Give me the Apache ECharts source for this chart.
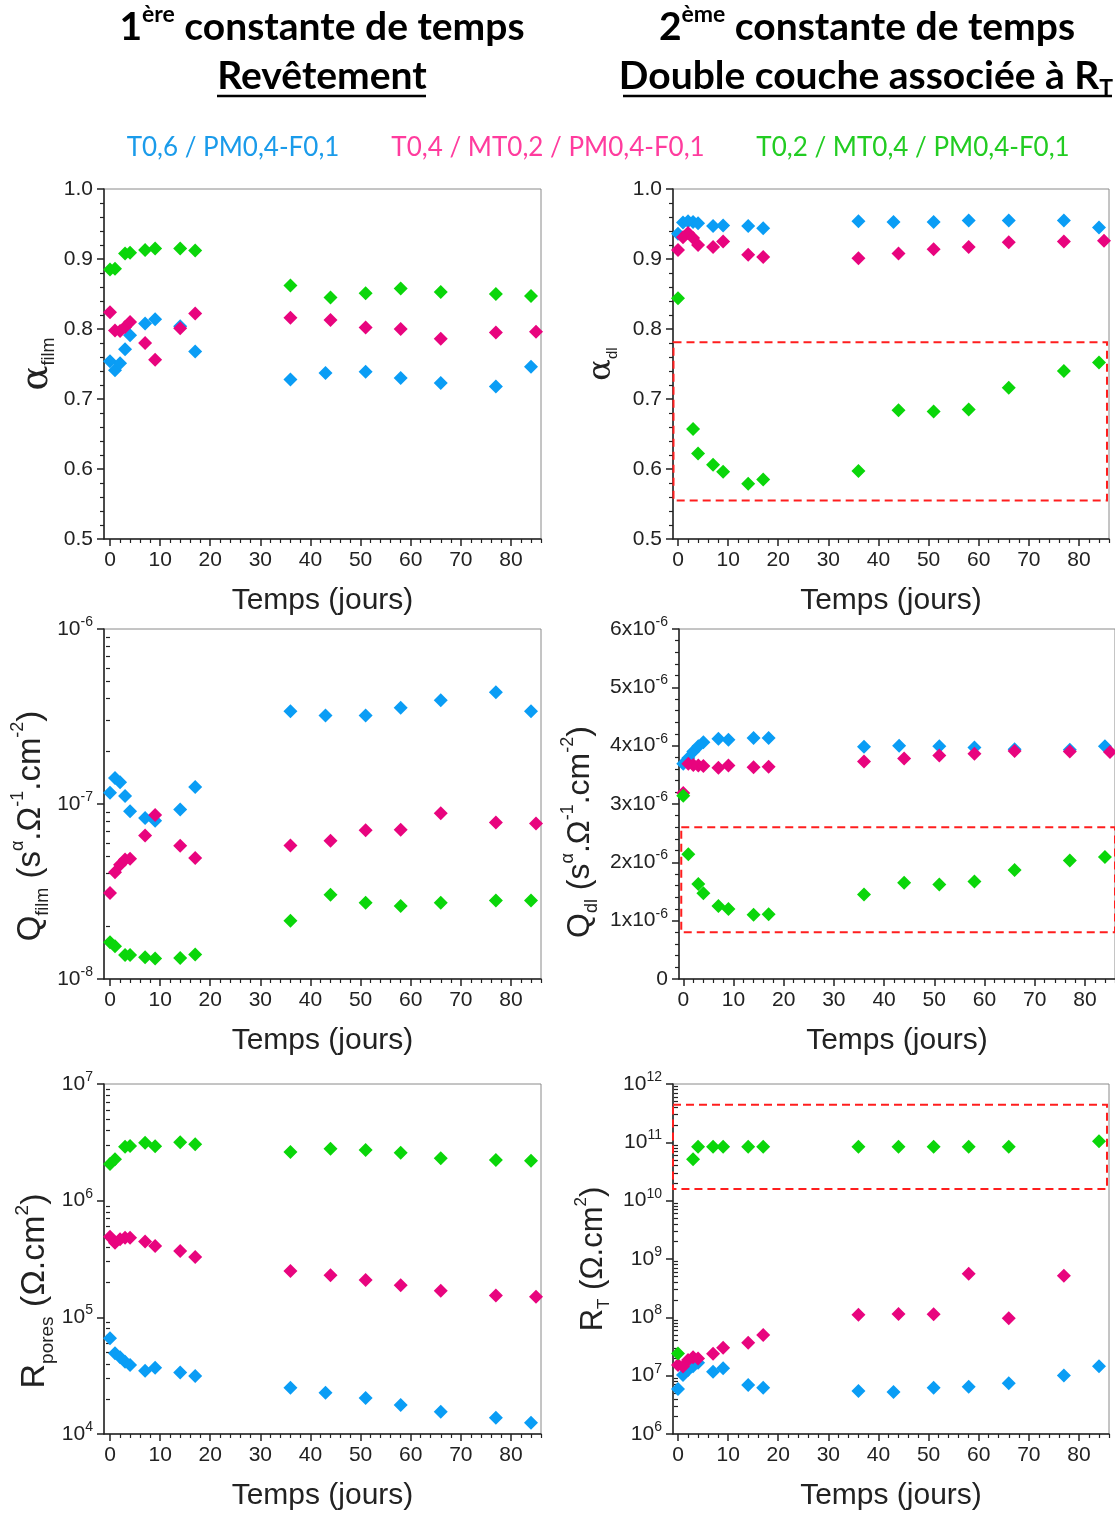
<!DOCTYPE html>
<html><head><meta charset="utf-8">
<script src="https://cdn.jsdelivr.net/npm/echarts@6/dist/echarts.min.js"></script>
<style>html,body{margin:0;padding:0;background:#fff}#c{width:1115px;height:1513px}</style>
</head><body><div id="c"></div><script>
// ---------------- DATA ----------------
const daysBlue  = [0, 1, 2, 3, 4, 7, 9, 14, 17, 36, 43, 51, 58, 66, 77, 84];
const daysPink  = [0, 1, 2, 3, 4, 7, 9, 14, 17, 36, 44, 51, 58, 66, 77, 85];
const daysGreen = [0, 1, 3, 4, 7, 9, 14, 17, 36, 44, 51, 58, 66, 77, 84];

const seriesNames = ['T0,6 / PM0,4-F0,1', 'T0,4 / MT0,2 / PM0,4-F0,1', 'T0,2 / MT0,4 / PM0,4-F0,1'];

// alpha film
const alphaFilmBlue  = [0.754, 0.741, 0.751, 0.771, 0.791, 0.808, 0.814, 0.804, 0.768, 0.728, 0.737, 0.739, 0.730, 0.723, 0.718, 0.746];
const alphaFilmPink  = [0.824, 0.798, 0.797, 0.803, 0.810, 0.780, 0.756, 0.801, 0.822, 0.816, 0.813, 0.802, 0.800, 0.786, 0.795, 0.796];
const alphaFilmGreen = [0.885, 0.886, 0.908, 0.909, 0.913, 0.915, 0.915, 0.912, 0.862, 0.845, 0.851, 0.858, 0.853, 0.850, 0.847];

// alpha dl
const alphaDlBlue  = [0.936, 0.952, 0.954, 0.953, 0.951, 0.947, 0.948, 0.947, 0.944, 0.954, 0.953, 0.953, 0.955, 0.955, 0.955, 0.945];
const alphaDlPink  = [0.913, 0.931, 0.937, 0.930, 0.920, 0.917, 0.925, 0.906, 0.903, 0.901, 0.908, 0.914, 0.917, 0.924, 0.925, 0.926];
const alphaDlGreen = [0.844, null, 0.657, 0.622, 0.606, 0.596, 0.579, 0.585, 0.597, 0.684, 0.682, 0.685, 0.716, 0.740, 0.752];

// Q film
const qFilmBlue  = [1.16e-7, 1.41e-7, 1.33e-7, 1.11e-7, 9.08e-8, 8.31e-8, 8.03e-8, 9.29e-8, 1.25e-7, 3.39e-7, 3.20e-7, 3.20e-7, 3.55e-7, 3.91e-7, 4.35e-7, 3.39e-7];
const qFilmPink  = [3.10e-8, 4.08e-8, 4.50e-8, 4.81e-8, 4.87e-8, 6.60e-8, 8.65e-8, 5.78e-8, 4.91e-8, 5.80e-8, 6.17e-8, 7.08e-8, 7.13e-8, 8.85e-8, 7.85e-8, 7.73e-8];
const qFilmGreen = [1.62e-8, 1.54e-8, 1.37e-8, 1.37e-8, 1.33e-8, 1.31e-8, 1.32e-8, 1.38e-8, 2.15e-8, 3.03e-8, 2.73e-8, 2.61e-8, 2.73e-8, 2.81e-8, 2.81e-8];

// Q dl
const qDlBlue  = [3.69e-6, 3.79e-6, 3.90e-6, 3.99e-6, 4.06e-6, 4.12e-6, 4.10e-6, 4.13e-6, 4.13e-6, 3.98e-6, 4.00e-6, 3.99e-6, 3.97e-6, 3.94e-6, 3.93e-6, 3.99e-6];
const qDlPink  = [3.19e-6, 3.69e-6, 3.67e-6, 3.66e-6, 3.65e-6, 3.62e-6, 3.66e-6, 3.63e-6, 3.64e-6, 3.73e-6, 3.78e-6, 3.83e-6, 3.86e-6, 3.91e-6, 3.90e-6, 3.89e-6];
const qDlGreen = [3.14e-6, 2.14e-6, 1.63e-6, 1.47e-6, 1.25e-6, 1.20e-6, 1.10e-6, 1.11e-6, 1.45e-6, 1.65e-6, 1.62e-6, 1.67e-6, 1.87e-6, 2.03e-6, 2.09e-6];

// R pores
const rPoresBlue  = [6.61e4, 4.91e4, 4.54e4, 4.17e4, 3.90e4, 3.49e4, 3.70e4, 3.36e4, 3.14e4, 2.49e4, 2.26e4, 2.04e4, 1.77e4, 1.55e4, 1.38e4, 1.25e4];
const rPoresPink  = [4.91e5, 4.36e5, 4.66e5, 4.82e5, 4.82e5, 4.46e5, 4.09e5, 3.70e5, 3.29e5, 2.49e5, 2.29e5, 2.09e5, 1.88e5, 1.69e5, 1.54e5, 1.50e5];
const rPoresGreen = [2.06e6, 2.26e6, 2.90e6, 2.94e6, 3.14e6, 2.93e6, 3.16e6, 3.04e6, 2.61e6, 2.79e6, 2.72e6, 2.58e6, 2.31e6, 2.23e6, 2.20e6];

// R T
const rTBlue  = [5.91e6, 1.03e7, 1.25e7, 1.45e7, 1.67e7, 1.17e7, 1.34e7, 6.92e6, 6.23e6, 5.46e6, 5.25e6, 6.23e6, 6.47e6, 7.39e6, 1.01e7, 1.45e7];
const rTPink  = [1.52e7, 1.43e7, 1.86e7, 2.06e7, 1.96e7, 2.38e7, 3.02e7, 3.68e7, 4.98e7, 1.11e8, 1.14e8, 1.13e8, 5.61e8, 9.60e7, 5.18e8, null];
const rTGreen = [2.41e7, null, 5.11e10, 8.43e10, 8.43e10, 8.43e10, 8.43e10, 8.43e10, 8.43e10, 8.43e10, 8.43e10, 8.43e10, 8.43e10, null, 1.04e11];

// x tick labels
const xTicks = [0, 10, 20, 30, 40, 50, 60, 70, 80];

// highlighted regions (x1, y1, x2, y2) in data units
const boxAlphaDl = [-0.9, 0.781, 85.6, 0.555];
const boxQDl     = [-0.4, 2.6e-6, 86.5, 0.8e-6];
const boxRT      = [-1.0, 4.43e11, 85.6, 1.58e10];

// ---------------- STYLE ----------------
const COLORS = ['#0A9DF5', '#E8047E', '#0AD60A'];
const LEGEND_COLORS = ['#1A9BEA', '#FF3C9E', '#22CC22'];
const AX = '#222';
const FONT = '"Liberation Sans", Arial, sans-serif';
const TFONT = 'Lato, "Open Sans", sans-serif';

function pts(days, vals) {
  return days.map((d, i) => [d, vals[i]]).filter(p => p[1] !== null && p[1] !== undefined);
}
function logMinors(lo, hi) {
  const out = [];
  for (let e = lo; e < hi; e++) for (let k = 2; k <= 9; k++) out.push(k * Math.pow(10, e));
  return out;
}
function logMajors(lo, hi) {
  const out = [];
  for (let e = lo; e <= hi; e++) out.push(Math.pow(10, e));
  return out;
}
const xMinor = [];
for (let v = 2; v <= 86; v += 2) if (v % 10 !== 0) xMinor.push(v);

const tickRich = {
  b: { fontSize: 21, fontFamily: FONT, color: AX, lineHeight: 28 },
  s: { fontSize: 14, fontFamily: FONT, color: AX, verticalAlign: 'top', lineHeight: 14 }
};
function nameRich(fs) {
  return {
    sub: { fontSize: Math.round(fs * 0.55), fontFamily: FONT, color: AX, verticalAlign: 'bottom', lineHeight: Math.round(fs * 0.55) },
    sup: { fontSize: Math.round(fs * 0.55), fontFamily: FONT, color: AX, verticalAlign: 'top', lineHeight: Math.round(fs * 0.5) },
    g: { fontSize: Math.round(fs * 1.15), fontFamily: 'DejaVu Serif, serif', color: AX, lineHeight: Math.round(fs * 1.3) }
  };
}

const logFmt = v => '{b|10}{s|' + Math.round(Math.log10(v)) + '}';

const panels = [
  { grid: { left: 104, top: 189, width: 437, height: 350 }, xmin: -1.2, xmax: 86,
    y: { type: 'value', min: 0.5, max: 1.0, interval: 0.1, fmt: v => '{b|' + v.toFixed(1) + '}' },
    name: '{g|α}{sub|film}', nameFs: 32, nameGap: 46, namePad: [0, 0, 0, 0],
    data: [[daysBlue, alphaFilmBlue], [daysPink, alphaFilmPink], [daysGreen, alphaFilmGreen]], box: null },
  { grid: { left: 673, top: 189, width: 436, height: 350 }, xmin: -1.0, xmax: 86,
    y: { type: 'value', min: 0.5, max: 1.0, interval: 0.1, fmt: v => '{b|' + v.toFixed(1) + '}' },
    name: '{g|α}{sub|dl}', nameGap: 53, nameFs: 28, namePad: [0, 0, 0, 0],
    data: [[daysBlue, alphaDlBlue], [daysPink, alphaDlPink], [daysGreen, alphaDlGreen]], box: boxAlphaDl },
  { grid: { left: 104, top: 629, width: 437, height: 350 }, xmin: -1.2, xmax: 86,
    y: { type: 'log', lo: -8, hi: -6 },
    name: 'Q{sub|film} (s{sup|α}.Ω{sup|-1}.cm{sup|-2})', nameFs: 33, nameGap: 52, namePad: [0, 44, 0, 0],
    data: [[daysBlue, qFilmBlue], [daysPink, qFilmPink], [daysGreen, qFilmGreen]], box: null },
  { grid: { left: 679, top: 629, width: 436, height: 350 }, xmin: -0.85, xmax: 86,
    y: { type: 'value', min: 0, max: 6e-6, interval: 1e-6, fmt: v => v === 0 ? '{b|0}' : '{b|' + Math.round(v * 1e6) + 'x10}{s|-6}' },
    name: 'Q{sub|dl} (s{sup|α}.Ω{sup|-1}.cm{sup|-2})', nameFs: 32, nameGap: 78, namePad: [0, 56, 0, 0],
    data: [[daysBlue, qDlBlue], [daysPink, qDlPink], [daysGreen, qDlGreen]], box: boxQDl },
  { grid: { left: 104, top: 1084, width: 437, height: 350 }, xmin: -1.2, xmax: 86,
    y: { type: 'log', lo: 4, hi: 7 },
    name: 'R{sub|pores} (Ω.cm{sup|2})', nameFs: 34, nameGap: 47, namePad: [0, 64, 0, 0],
    data: [[daysBlue, rPoresBlue], [daysPink, rPoresPink], [daysGreen, rPoresGreen]], box: null },
  { grid: { left: 673, top: 1084, width: 436, height: 350 }, xmin: -1.0, xmax: 86,
    y: { type: 'log', lo: 6, hi: 12 },
    name: 'R{sub|T} (Ω.cm{sup|2})', nameFs: 31, nameGap: 60, namePad: [0, 0, 0, 0],
    data: [[daysBlue, rTBlue], [daysPink, rTPink], [daysGreen, rTGreen]], box: boxRT }
];

const grid = [], xAxis = [], yAxis = [], series = [];
panels.forEach((p, i) => {
  grid.push(Object.assign({ show: true, borderColor: '#8a8a8a', borderWidth: 1, backgroundColor: 'transparent' }, p.grid));
  const xi = xAxis.length, yi = yAxis.length;
  xAxis.push({
    gridIndex: i, type: 'value', min: p.xmin, max: p.xmax, position: 'bottom',
    axisLine: { show: true, onZero: false, lineStyle: { color: AX, width: 1.5 } },
    axisTick: { show: true, length: 7, customValues: xTicks, lineStyle: { color: AX, width: 1.5 } },
    axisLabel: { customValues: xTicks, fontSize: 21, fontFamily: FONT, color: AX, margin: 11 },
    splitLine: { show: false },
    name: 'Temps (jours)', nameLocation: 'middle', nameGap: 47,
    nameTextStyle: { fontSize: 30, fontFamily: FONT, color: AX }
  });
  xAxis.push({
    gridIndex: i, type: 'value', min: p.xmin, max: p.xmax, position: 'bottom', offset: 0,
    axisLine: { show: false }, axisLabel: { show: false }, splitLine: { show: false },
    axisTick: { show: true, length: 4, customValues: xMinor, lineStyle: { color: AX, width: 1.2 } }
  });
  const nameCfg = {
    name: p.name, nameLocation: 'middle', nameGap: p.nameGap, nameRotate: 90,
    nameTextStyle: { fontSize: p.nameFs, fontFamily: FONT, color: AX, lineHeight: Math.round(p.nameFs * 1.3), padding: p.namePad, rich: nameRich(p.nameFs) }
  };
  if (p.y.type === 'value') {
    yAxis.push(Object.assign({
      gridIndex: i, type: 'value', min: p.y.min, max: p.y.max, interval: p.y.interval, position: 'left',
      axisLine: { show: true, onZero: false, lineStyle: { color: AX, width: 1.5 } },
      axisTick: { show: true, length: 7, lineStyle: { color: AX, width: 1.5 } },
      minorTick: { show: true, splitNumber: 5, length: 4, lineStyle: { color: AX, width: 1.2 } },
      axisLabel: { formatter: p.y.fmt, rich: tickRich, margin: 11 },
      splitLine: { show: false }, minorSplitLine: { show: false }
    }, nameCfg));
  } else {
    const majors = logMajors(p.y.lo, p.y.hi);
    yAxis.push(Object.assign({
      gridIndex: i, type: 'log', logBase: 10, min: majors[0], max: majors[majors.length - 1], position: 'left',
      axisLine: { show: true, onZero: false, lineStyle: { color: AX, width: 1.5 } },
      axisTick: { show: true, length: 7, customValues: majors, lineStyle: { color: AX, width: 1.5 } },
      axisLabel: { customValues: majors, formatter: logFmt, rich: tickRich, margin: 11 },
      splitLine: { show: false }
    }, nameCfg));
    yAxis.push({
      gridIndex: i, type: 'log', logBase: 10, min: majors[0], max: majors[majors.length - 1], position: 'left', offset: 0,
      axisLine: { show: false }, axisLabel: { show: false }, splitLine: { show: false },
      axisTick: { show: true, length: 4, customValues: logMinors(p.y.lo, p.y.hi), lineStyle: { color: AX, width: 1.2 } }
    });
  }
  p.data.forEach((d, k) => {
    const s = {
      type: 'scatter', name: seriesNames[k], xAxisIndex: xi, yAxisIndex: yi,
      symbol: 'diamond', symbolSize: 14, itemStyle: { color: COLORS[k], opacity: 1 },
      data: pts(d[0], d[1]), z: 3 + k, animation: false
    };
    if (k === 2 && p.box) {
      s.markArea = {
        silent: true, label: { show: false },
        itemStyle: { color: 'rgba(0,0,0,0)', borderColor: '#FF1E1E', borderWidth: 2, borderType: [8, 5] },
        data: [[{ coord: [p.box[0], p.box[1]] }, { coord: [p.box[2], p.box[3]] }]]
      };
    }
    series.push(s);
  });
});

const titleRich = {
  t: { fontSize: 39, fontWeight: 'bold', fontFamily: TFONT, color: '#000', lineHeight: 48 },
  sp: { fontSize: 23, fontWeight: 'bold', fontFamily: TFONT, color: '#000', verticalAlign: 'top', lineHeight: 24 },
  sb: { fontSize: 23, fontWeight: 'bold', fontFamily: TFONT, color: '#000', verticalAlign: 'bottom', lineHeight: 17 }
};
function tText(x, y, text) {
  return { type: 'text', x: x, y: y, style: { text: text, align: 'center', verticalAlign: 'middle', rich: titleRich } };
}
function legText(x, k) {
  return { type: 'text', x: x, y: 148, style: { text: seriesNames[k], align: 'center', verticalAlign: 'middle',
    fontSize: 26, fontFamily: TFONT, fill: LEGEND_COLORS[k] } };
}
const graphic = [
  tText(322, 27, '{t|1}{sp|ère}{t| constante de temps}'),
  tText(322, 76, '{t|Revêtement}'),
  tText(867, 27, '{t|2}{sp|ème}{t| constante de temps}'),
  tText(866, 76, '{t|Double couche associée à R}{sb|T}'),
  { type: 'line', shape: { x1: 217, y1: 96, x2: 426, y2: 96 }, style: { stroke: '#000', lineWidth: 2.5 } },
  { type: 'line', shape: { x1: 623, y1: 96, x2: 1112, y2: 96 }, style: { stroke: '#000', lineWidth: 2.5 } },
  legText(233, 0), legText(548, 1), legText(913, 2)
];

const chart = echarts.init(document.getElementById('c'), null, { renderer: 'canvas' });
chart.setOption({ animation: false, backgroundColor: '#fff', grid, xAxis, yAxis, series, graphic });
</script></body></html>
